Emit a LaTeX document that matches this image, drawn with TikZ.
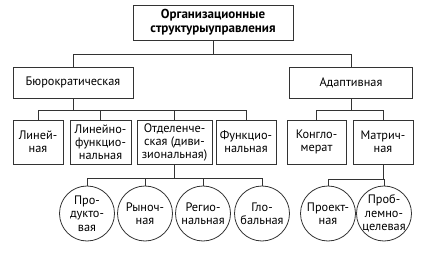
\documentclass[tikz,border=0pt]{standalone}
\usepackage{fontspec}
\setmainfont{PT Sans}
\usetikzlibrary{positioning}
\tikzset{
  blok/.style={draw=black!80,line width=0.8pt,align=center,inner sep=1pt,
               font=\fontsize{12.3}{13}\selectfont},
  vtoroy/.style={blok,minimum height=44pt},
  krug/.style={draw=black!80,line width=0.8pt,circle,align=center,inner sep=-4pt,
               minimum size=55pt,font=\fontsize{12.3}{13.3}\selectfont},
  svyaz/.style={draw=black!80,line width=0.8pt},
}

\begin{document}
\begin{tikzpicture}[x=1pt,y=1pt]
  \useasboundingbox (0,0) rectangle (434,-254);

  % ---------- verkh ----------
  \node[blok,minimum width=160pt,minimum height=35pt,
        font=\bfseries\fontsize{13}{14}\selectfont] (org) at (213,-22.5)
       {Организационные\\структурыуправления};

  % ---------- tipy ----------
  \node[blok,minimum width=120pt,minimum height=31pt] (bur) at (73,-82.5)
       {Бюрократическая};
  \node[blok,minimum width=123pt,minimum height=31pt] (adapt) at (351,-82.5)
       {Адаптивная};

  \draw[svyaz] (org.south) -- ++(0,-14) -| (bur.north);
  \draw[svyaz] (org.south) -- ++(0,-14) -| (adapt.north);

  % ---------- vtoroy uroven ----------
  \node[vtoroy,minimum width=50pt] (lin)  at (38,-142)    {Линей-\\ная};
  \node[vtoroy,minimum width=61pt] (linf) at (100.5,-142) {Линейно-\\функцио-\\нальная};
  \node[vtoroy,minimum width=75pt] (otd)  at (174.5,-142) {Отделенче-\\ская (диви-\\зиональная)};
  \node[vtoroy,minimum width=60pt] (func) at (246,-142)   {Функцио-\\нальная};
  \node[vtoroy,minimum width=59pt] (kong) at (316.5,-142) {Конгло-\\мерат};
  \node[vtoroy,minimum width=60pt] (matr) at (383,-142)   {Матрич-\\ная};

  \foreach \c in {lin,linf,otd,func}
    \draw[svyaz] (bur.south) -- ++(0,-12) -| (\c.north);
  \foreach \c in {kong,matr}
    \draw[svyaz] (adapt.south) -- ++(0,-12) -| (\c.north);

  % ---------- krugi ----------
  \node[krug] (prod) at (87,-213.5)  {Про-\\дукто-\\вая};
  \node[krug] (ryn)  at (145,-213.5) {Рыноч-\\ная};
  \node[krug] (reg)  at (203,-213.5) {Регио-\\нальная};
  \node[krug] (glob) at (262,-213.5) {Гло-\\бальная};
  \node[krug] (proj) at (328,-213.5) {Проект-\\ная};
  \node[krug] (probl) at (384,-213.5) {Проб-\\лемно-\\целевая};

  \foreach \c in {prod,ryn,reg,glob}
    \draw[svyaz] (otd.south) -- ++(0,-14) -| (\c.north);
  \foreach \c in {proj,probl}
    \draw[svyaz] (matr.south) -- ++(0,-15) -| (\c.north);

\end{tikzpicture}
\end{document}
